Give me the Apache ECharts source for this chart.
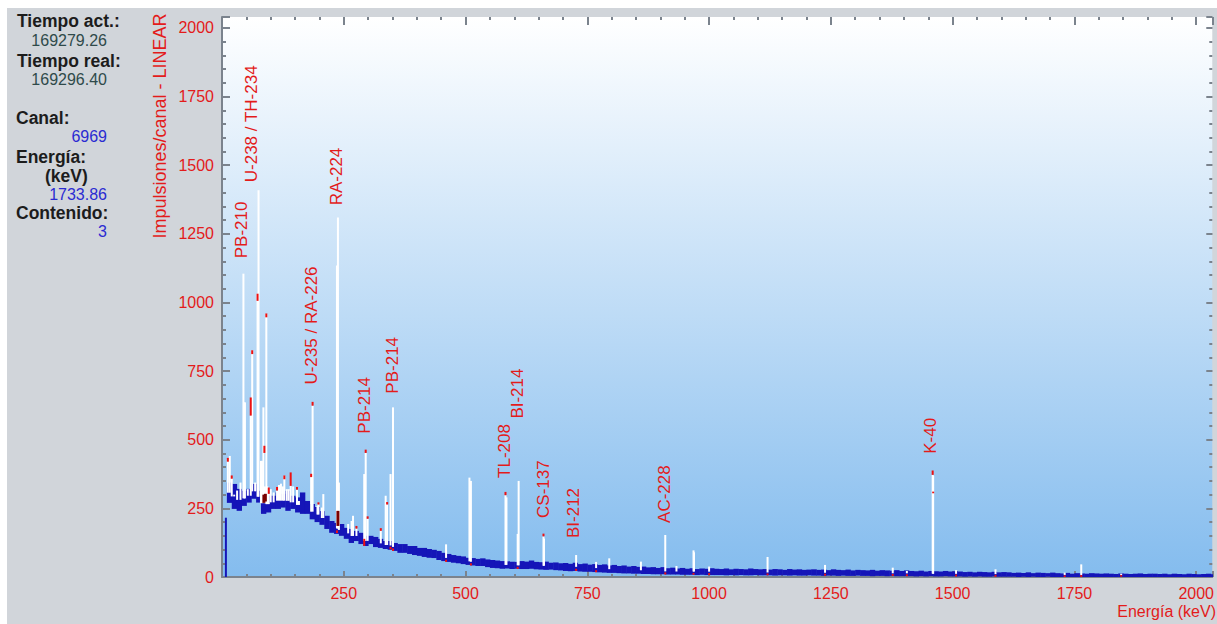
<!DOCTYPE html>
<html>
<head>
<meta charset="utf-8">
<script src="https://cdn.jsdelivr.net/npm/echarts@6/dist/echarts.min.js"></script>
<style>
html, body { margin: 0; padding: 0; background: #ffffff; }
#bg { position: absolute; left: 7px; top: 8px; width: 1210px; height: 616px; background: #d1d5da; }
#chart { position: absolute; left: 0; top: 0; width: 1217px; height: 624px; }
</style>
</head>
<body>
<div id="bg"></div>
<div id="chart"></div>
<script>
// continuum: blocks of 10 keV starting at 10 keV (low / high edge of the noisy band, counts)
const bandStart = 10;
const bandStep = 10;
const bandLow = [
    270, 248, 241, 259, 271, 285, 271, 230, 235, 248,
    248, 253, 241, 248, 235, 230, 230, 210, 200, 190,
    175, 161, 157, 150, 139, 124, 131, 120, 113, 120,
    109, 106, 102, 99, 95, 88, 88, 84, 80, 77,
    73, 70, 69, 62, 58, 55, 52, 50, 47, 44,
    42, 40, 40, 36, 33, 32, 30, 31, 29, 30,
    29, 29, 30, 28, 27, 26, 27, 25, 24, 22,
    21, 22, 20, 19, 19, 18, 17, 16, 15, 15,
    14, 13, 13, 12, 12, 11, 11, 10, 10, 10,
    9, 9, 9, 8, 8, 8, 7, 8, 7, 7,
    7, 7, 6, 7, 6, 7, 6, 6, 7, 6,
    6, 6, 5, 6, 6, 5, 6, 5, 5, 6,
    5, 5, 4, 5, 5, 4, 5, 4, 4, 5,
    4, 4, 3, 4, 4, 3, 4, 3, 3, 3,
    3, 2, 3, 2, 3, 2, 2, 3, 2, 2,
    2, 1, 2, 1, 2, 1, 1, 2, 1, 1,
    1, 1, 0, 1, 0, 1, 0, 0, 1, 0,
    0, 0, 0, 0, 0, 0, 0, 0, 0, 0,
    0, 0, 0, 0, 0, 0, 0, 0, 0, 0,
    0, 0, 0, 0, 0, 0, 0, 0, 0, 0,
    0, 0, 0
];
const bandHigh = [
    344, 339, 321, 314, 321, 339, 314, 308, 296, 296,
    308, 303, 314, 296, 290, 308, 277, 266, 255, 240,
    223, 204, 197, 193, 179, 175, 168, 161, 150, 150,
    146, 139, 131, 131, 124, 120, 120, 113, 113, 106,
    106, 102, 99, 95, 88, 84, 80, 77, 75, 70,
    69, 66, 68, 64, 62, 60, 58, 57, 56, 55,
    58, 56, 60, 55, 54, 56, 52, 53, 50, 51,
    48, 52, 47, 49, 45, 47, 44, 46, 42, 44,
    40, 42, 38, 40, 37, 38, 35, 36, 33, 36,
    32, 34, 31, 33, 30, 32, 29, 31, 30, 32,
    30, 29, 31, 28, 30, 29, 28, 31, 29, 28,
    29, 27, 29, 28, 26, 29, 27, 28, 26, 27,
    28, 26, 27, 25, 28, 26, 25, 27, 24, 26,
    25, 24, 26, 23, 25, 24, 23, 25, 22, 24,
    22, 21, 23, 20, 22, 21, 20, 22, 20, 21,
    20, 18, 19, 17, 19, 18, 17, 19, 17, 18,
    17, 15, 16, 15, 17, 14, 16, 15, 14, 16,
    14, 13, 15, 12, 14, 13, 12, 14, 13, 12,
    13, 12, 11, 13, 12, 11, 12, 13, 11, 12,
    12, 11, 12, 10, 12, 11, 10, 12, 11, 10,
    11, 12, 10
];
// steep rise of the first channels
const risePoints = [[8, 0], [8, 216]];

// white ROI channels: energy (keV) and top (counts)
const peakEnergy = [
    12, 16, 20, 25, 31, 38, 44, 46, 47, 53,
    59, 62, 68, 73, 75, 80, 82, 85, 88, 91,
    93, 96, 100, 106, 113, 117, 121, 125, 128, 133,
    137, 141, 146, 154, 158, 183, 186, 196, 198, 205,
    208, 236, 238, 240, 259, 266, 269, 276, 292, 295,
    299, 326, 336, 339, 346, 351, 460, 508, 511, 582,
    584, 607, 609, 660, 661, 727, 768, 795, 860, 910,
    933, 968, 969, 1000, 1120, 1238, 1377, 1406, 1459, 1460,
    1507, 1588, 1730, 1764, 1846
];
const peakTop = [
    430, 441, 360, 300, 315, 344, 1105, 636, 636, 320,
    588, 825, 344, 1032, 1409, 423, 423, 618, 330, 958,
    330, 303, 320, 308, 315, 335, 340, 330, 369, 320,
    320, 332, 330, 318, 277, 364, 625, 259, 265, 253,
    302, 1135, 1310, 344, 193, 204, 223, 178, 375, 452,
    213, 170, 296, 265, 375, 618, 119, 362, 350, 298,
    290, 157, 350, 148, 140, 80, 55, 68, 56, 153,
    40, 97, 90, 38, 73, 44, 34, 22, 372, 369,
    25, 28, 16, 46, 12
];

// red markers: energy, low, high (counts)
const markEnergy = [
    12, 20, 59, 62, 73, 87, 91, 96, 113, 128,
    141, 154, 183, 186, 198, 276, 292, 295, 299, 326,
    339, 582, 660, 1459, 1460, 236, 346, 351, 460, 511,
    607, 727, 768, 910, 968, 1000, 1120, 1238, 1377, 1406,
    1507, 1588, 1730, 1764, 1846
];
const markLow = [
    420, 358, 588, 812, 1006, 452, 946, 303, 315, 356,
    332, 318, 364, 624, 264, 176, 113, 452, 212, 168,
    264, 298, 148, 372, 305, 160, 101, 95, 55, 42,
    29, 22, 17, 9, 8, 7, 6, 5, 4, 3,
    2, 1, 0, 0, 1
];
const markHigh = [
    434, 370, 654, 826, 1032, 478, 960, 326, 328, 370,
    381, 328, 376, 638, 272, 186, 139, 464, 221, 178,
    273, 310, 158, 388, 311, 170, 110, 104, 63, 50,
    37, 30, 25, 17, 15, 14, 13, 12, 11, 10,
    9, 8, 6, 7, 7
];
const darkMarkEnergy = [86, 89, 238];
const darkMarkLow = [270, 275, 186];
const darkMarkHigh = [300, 303, 241];

// nuclide labels: name, energy of the label, counts where the text starts
const labelNames = ['PB-210', 'U-238 / TH-234', 'U-235 / RA-226', 'RA-224', 'PB-214', 'PB-214',
    'TL-208', 'BI-214', 'CS-137', 'BI-212', 'AC-228', 'K-40'];
const labelEnergy = [41, 61, 184, 235, 293, 350, 580, 606, 660, 721, 908, 1455];
const labelBase = [1161, 1438, 701, 1354, 522, 668, 361, 577, 215, 142, 197, 449];

// side panel
const infoTitles = ['Tiempo act.:', 'Tiempo real:', 'Canal:', 'Energía:', '(keV)', 'Contenido:'];
const infoValues = ['169279.26', '169296.40', '6969', '1733.86', '3'];

const xMax = 2033;
const yMax = 2040;
const red = '#e31b1b';
const tickGray = '#7b838d';
const bandBlue = '#1515b8';
const font = '"Liberation Sans", Arial, sans-serif';

const chart = echarts.init(document.getElementById('chart'), null, { renderer: 'svg' });

function makeAxis(position, max, interval, tickLen, showLine, label) {
    return {
        type: 'value',
        position: position,
        min: 0,
        max: max,
        interval: interval,
        axisLine: { show: showLine, onZero: false, lineStyle: { color: tickGray, width: 2 } },
        axisTick: { show: true, inside: true, length: tickLen, lineStyle: { color: tickGray, width: 2 } },
        axisLabel: label || { show: false },
        splitLine: { show: false }
    };
}

const xLabel = {
    color: red, fontSize: 16, fontFamily: font, margin: 8,
    formatter: v => (v > 0 && v % 250 === 0) ? String(v) : ''
};
const yLabel = {
    color: red, fontSize: 16, fontFamily: font, margin: 8,
    formatter: v => (v % 250 === 0) ? String(v) : ''
};

// white ROI columns start inside the band, roughly at its middle
function bandMidAt(e) {
    const i = Math.max(0, Math.min(bandLow.length - 1, Math.floor((e - bandStart) / bandStep)));
    return (bandLow[i] + bandHigh[i]) / 2;
}

const bandData = bandLow.map((lo, i) => [bandStart + i * bandStep, lo, bandHigh[i]]);
const peakData = peakEnergy.map((e, i) => [e, Math.min(bandMidAt(e), peakTop[i]), peakTop[i]]);
const markData = markEnergy.map((e, i) => [e, markLow[i], markHigh[i]]);
const darkData = darkMarkEnergy.map((e, i) => [e, darkMarkLow[i], darkMarkHigh[i]]);
const labelData = labelEnergy.map((e, i) => [e, labelBase[i], i]);

function segment(color, width) {
    return function (params, api) {
        const e = api.value(0);
        const a = api.coord([e, api.value(2)]);
        const b = api.coord([e, api.value(1)]);
        return {
            type: 'rect',
            shape: { x: a[0] - width / 2, y: a[1], width: width, height: Math.max(1, b[1] - a[1]) },
            style: { fill: color }
        };
    };
}

const infoGraphics = [];
const titleY = [21, 61, 118, 157, 176, 213];
const titleX = [17, 17, 16, 16, 45, 16];
infoTitles.forEach((t, i) => {
    infoGraphics.push({
        type: 'text', x: titleX[i], y: titleY[i],
        style: { text: t, fill: '#1c1c1c', font: 'bold 17.5px ' + font, verticalAlign: 'middle' }
    });
});
const valueY = [40, 79, 136, 194, 231];
const valueColor = ['#2f4a4a', '#2f4a4a', '#2b2bd2', '#2b2bd2', '#2b2bd2'];
infoValues.forEach((t, i) => {
    infoGraphics.push({
        type: 'text', x: 107, y: valueY[i],
        style: { text: t, fill: valueColor[i], font: '16px ' + font, align: 'right', verticalAlign: 'middle' }
    });
});
infoGraphics.push({
    type: 'text', x: 160, y: 126, rotation: Math.PI / 2,
    style: { text: 'Impulsiones/canal - LINEAR', fill: red, font: '18px ' + font, align: 'center', verticalAlign: 'middle' }
});
infoGraphics.push({
    type: 'text', x: 1216, y: 611,
    style: { text: 'Energía (keV)', fill: red, font: '16px ' + font, align: 'right', verticalAlign: 'middle' }
});

const option = {
    animation: false,
    grid: {
        left: 222, right: 1, top: 17, bottom: 47,
        show: true, borderWidth: 0,
        backgroundColor: {
            type: 'linear', x: 0, y: 0, x2: 0, y2: 1,
            colorStops: [{ offset: 0, color: '#ffffff' }, { offset: 1, color: '#84bcee' }]
        }
    },
    xAxis: [
        makeAxis('bottom', xMax, 250, 6, true, xLabel),
        makeAxis('bottom', xMax, 50, 3, false),
        makeAxis('top', xMax, 250, 8, false),
        makeAxis('top', xMax, 50, 3, false)
    ],
    yAxis: [
        makeAxis('left', yMax, 250, 8, true, yLabel),
        makeAxis('left', yMax, 50, 4, false),
        makeAxis('right', yMax, 250, 6, false),
        makeAxis('right', yMax, 50, 3, false)
    ],
    graphic: infoGraphics,
    series: [
        {
            type: 'line', data: risePoints, symbol: 'none', silent: true, z: 2,
            lineStyle: { color: bandBlue, width: 2 }
        },
        {
            type: 'custom', data: bandData, clip: true, silent: true, z: 2,
            renderItem: function (params, api) {
                const e = api.value(0);
                const a = api.coord([e, api.value(2)]);
                const b = api.coord([e + bandStep, api.value(1)]);
                return {
                    type: 'rect',
                    shape: { x: a[0], y: a[1], width: b[0] - a[0] + 0.5, height: Math.max(3, b[1] - a[1]) },
                    style: { fill: bandBlue }
                };
            }
        },
        { type: 'custom', data: peakData, clip: true, silent: true, z: 3, renderItem: segment('#ffffff', 2) },
        { type: 'custom', data: markData, clip: true, silent: true, z: 4, renderItem: segment('#ee1111', 2) },
        { type: 'custom', data: darkData, clip: true, silent: true, z: 4, renderItem: segment('#7a0000', 3) },
        {
            type: 'custom', data: labelData, silent: true, z: 5,
            renderItem: function (params, api) {
                const p = api.coord([api.value(0), api.value(1)]);
                return {
                    type: 'text', x: p[0], y: p[1], rotation: Math.PI / 2,
                    style: { text: labelNames[api.value(2)], fill: red, font: '17px ' + font, align: 'left', verticalAlign: 'middle' }
                };
            }
        }
    ]
};

chart.setOption(option);
</script>
</body>
</html>
